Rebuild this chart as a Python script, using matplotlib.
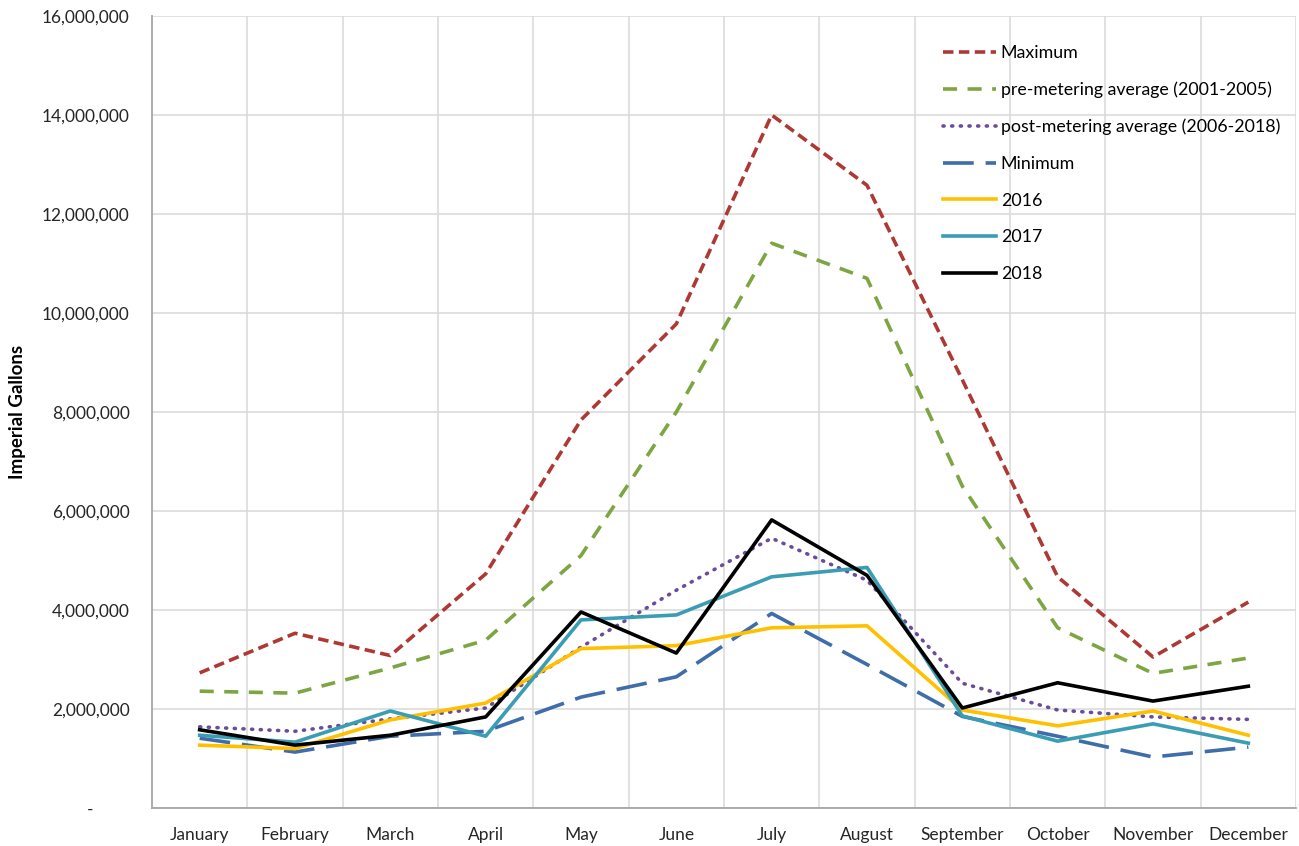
import numpy as np
import matplotlib
matplotlib.use("Agg")
from matplotlib import pyplot as plt
from matplotlib.ticker import FuncFormatter, FixedLocator

plt.rcParams['font.family'] = ['Lato', 'DejaVu Sans']

months = ["January", "February", "March", "April", "May", "June", "July",
          "August", "September", "October", "November", "December"]

maximum = [2.73e6, 3.53e6, 3.08e6, 4.73e6, 7.84e6, 9.78e6, 14.0e6, 12.58e6,
           8.65e6, 4.67e6, 3.05e6, 4.16e6]
pre_avg = [2.36e6, 2.32e6, 2.83e6, 3.39e6, 5.1e6, 8.0e6, 11.41e6, 10.7e6,
           6.5e6, 3.64e6, 2.72e6, 3.03e6]
post_avg = [1.64e6, 1.55e6, 1.8e6, 2.02e6, 3.25e6, 4.4e6, 5.45e6, 4.6e6,
            2.52e6, 1.98e6, 1.84e6, 1.79e6]
minimum = [1.41e6, 1.13e6, 1.45e6, 1.55e6, 2.24e6, 2.65e6, 3.93e6, 2.9e6,
           1.85e6, 1.45e6, 1.03e6, 1.23e6]
y2016 = [1.27e6, 1.2e6, 1.78e6, 2.12e6, 3.22e6, 3.28e6, 3.64e6, 3.68e6,
         1.98e6, 1.66e6, 1.96e6, 1.47e6]
y2017 = [1.47e6, 1.33e6, 1.96e6, 1.45e6, 3.8e6, 3.9e6, 4.67e6, 4.86e6,
         1.86e6, 1.35e6, 1.7e6, 1.31e6]
y2018 = [1.58e6, 1.27e6, 1.47e6, 1.84e6, 3.96e6, 3.13e6, 5.82e6, 4.7e6,
         2.02e6, 2.53e6, 2.16e6, 2.46e6]

fig = plt.figure(figsize=(12.99, 8.46), dpi=100)
ax = fig.add_axes([152/1299, 38/846, 1144/1299, 792/846])

x = np.arange(len(months))
lw = 2.6
ax.plot(x, maximum, color='#AE3934', lw=lw, dashes=(2.9, 1.5), label='Maximum')
ax.plot(x, pre_avg, color='#7DA542', lw=lw, dashes=(3.9, 2.9),
        label='pre-metering average (2001-2005)')
ax.plot(x, post_avg, color='#6A4C99', lw=lw, dashes=(0.3, 2.1),
        dash_capstyle='round', label='post-metering average (2006-2018)')
ax.plot(x, minimum, color='#3E6DAA', lw=lw, dashes=(8.5, 3.3), label='Minimum')
ax.plot(x, y2016, color='#FFC000', lw=lw, label='2016')
ax.plot(x, y2017, color='#3A9DB3', lw=lw, label='2017')
ax.plot(x, y2018, color='black', lw=lw, label='2018')

ax.set_xlim(-0.5, 11.5)
ax.set_ylim(0, 16e6)
ax.set_xticks(x)
ax.set_xticklabels(months)
ax.xaxis.set_minor_locator(FixedLocator(np.arange(0.5, 12, 1)))
ax.set_yticks(np.arange(0, 16e6 + 1, 2e6))


def fmt(v, pos):
    if v == 0:
        return '-        '
    return '{:,.0f}'.format(v)


ax.yaxis.set_major_formatter(FuncFormatter(fmt))
ax.tick_params(axis='both', which='both', length=0, labelsize=12.5, colors='#262626')
ax.tick_params(axis='x', pad=14)
ax.tick_params(axis='y', pad=16)

ax.grid(axis='y', which='major', color='#D9D9D9', lw=1.1)
ax.grid(axis='x', which='minor', color='#D9D9D9', lw=1.1)
ax.set_axisbelow(True)
for s in ['top', 'right']:
    ax.spines[s].set_visible(False)
for s in ['left', 'bottom']:
    ax.spines[s].set_color('#A6A6A6')
    ax.spines[s].set_linewidth(1.3)

fig.text(18/1299, 1 - 412/846, 'Imperial Gallons', rotation=90, fontsize=13.5,
         fontweight='bold', ha='center', va='center')

ax.legend(loc='upper left', bbox_to_anchor=(943/1299, 1 - 45/846),
          bbox_transform=fig.transFigure, frameon=False, fontsize=12.8,
          handlelength=3.0, handletextpad=0.25, labelspacing=1.16,
          borderpad=0, borderaxespad=0)

fig.savefig('out.png', dpi=100)
